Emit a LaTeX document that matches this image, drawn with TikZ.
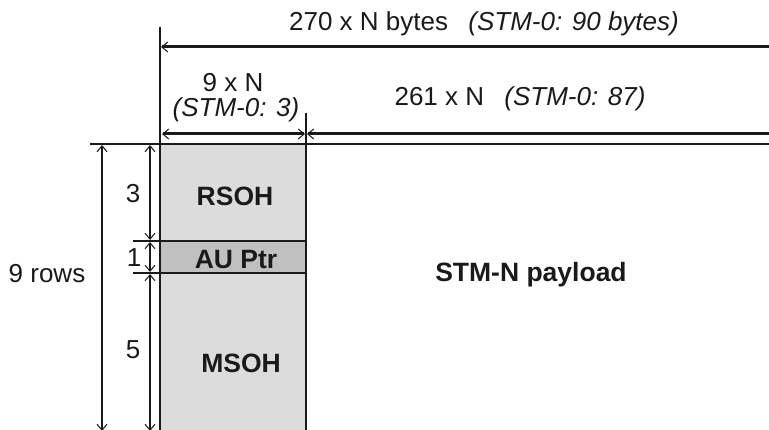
\documentclass[tikz,border=0pt]{standalone}
\usepackage{fontspec}
\setmainfont{Liberation Sans}
\usetikzlibrary{arrows.meta}
\definecolor{lightbox}{HTML}{DCDCDC}
\definecolor{darkbox}{HTML}{C0C0C0}
\definecolor{ink}{HTML}{1A1A1A}
\begin{document}
\begin{tikzpicture}[x=1pt,y=-1pt,
  >={Straight Barb[length=6pt,width=10pt,line width=1pt]},
  every node/.style={inner sep=0pt, text=ink, font=\fontsize{26}{30}\selectfont},
  dimline/.style={draw=ink, line width=3pt},
  thinline/.style={draw=ink, line width=2pt},
  vdim/.style={draw=ink, line width=1.8pt},
  lbl/.style={anchor=base},
  boldlbl/.style={anchor=base, font=\fontsize{26.5}{30}\selectfont\bfseries}]
\useasboundingbox (0,0) rectangle (769,430);
\clip (0,0) rectangle (769,430);
% coordinates
\coordinate (tl) at (160,144);
\coordinate (ptrT) at (306,241);
\coordinate (ptrB) at (306,273);
\coordinate (br) at (306,440);
% boxes
\path[fill=lightbox] (tl) rectangle (306,241);
\path[fill=darkbox] (160,241) rectangle (ptrB);
\path[fill=lightbox] (160,273) rectangle (br);
% frame lines
\coordinate (lvTop) at (160,27);
\coordinate (lvBot) at (160,440);
\coordinate (rvTop) at (306,113);
\coordinate (topL) at (90,144);
\coordinate (topR) at (769,144);
\draw[draw=ink, line width=2.8pt] (lvTop) -- (lvBot);
\draw[thinline] (rvTop) -- (br);
\draw[thinline] (topL) -- (topR);
\draw[thinline] (133,241) -- (ptrT);
\draw[thinline] (133,273) -- (ptrB);
% top dimension arrows
\coordinate (a1R) at (775,47);
\coordinate (a1L) at (161,47);
\draw[dimline, ->] (a1R) -- (a1L);
\coordinate (a2L) at (162,134);
\coordinate (a2M) at (305,134);
\coordinate (a3L) at (307,134);
\coordinate (a3R) at (775,134);
\draw[dimline, <->] (a2L) -- (a2M);
\draw[dimline, ->] (a3R) -- (a3L);
% vertical dimensions
\coordinate (r9T) at (102,145);
\coordinate (r9B) at (102,431);
\draw[vdim, <->] (r9T) -- (r9B);
\coordinate (d3T) at (150,145);
\coordinate (d3B) at (150,240);
\coordinate (d1T) at (150,242);
\coordinate (d1B) at (150,272);
\coordinate (d5T) at (150,274);
\coordinate (d5B) at (150,431);
\draw[vdim, <->] (d3T) -- (d3B);
\draw[vdim, <->] (d1T) -- (d1B);
\draw[vdim, <->] (d5T) -- (d5B);
% labels
\node[lbl] (t270) at (484,31) {270 x N bytes\hspace{0.5em} \textit{(STM-0: 90 bytes)}};
\node[lbl] (t9n) at (233,92) {9 x N};
\node[lbl] (t9s) at (236,117) {\textit{(STM-0: 3)}};
\node[lbl] (t261) at (520,106) {261 x N\hspace{0.5em} \textit{(STM-0: 87)}};
\node[boldlbl] (rsoh) at (235,206) {RSOH};
\node[boldlbl] (ptr) at (236,269) {AU Ptr};
\node[boldlbl] (msoh) at (241,373) {MSOH};
\node[lbl] (n3) at (133,203) {3};
\node[lbl] (n1) at (134,267) {1};
\node[lbl] (n5) at (133,359) {5};
\node[lbl] (rows) at (47,283) {9 rows};
\node[boldlbl] (pay) at (531,282) {STM-N payload};
\end{tikzpicture}
\end{document}
